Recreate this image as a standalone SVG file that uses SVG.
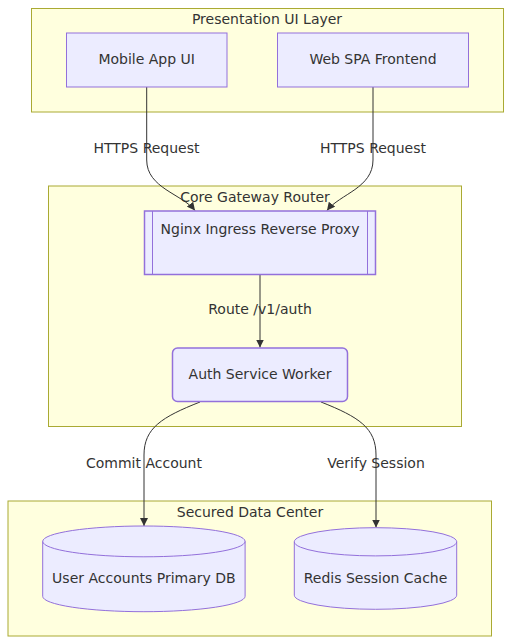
<svg xmlns="http://www.w3.org/2000/svg" width="511" height="644" viewBox="0 0 511 644">
<style>
.cluster{fill:#ffffde;stroke:#aaaa33;stroke-width:1}
.node{fill:#ECECFF;stroke:#9370DB;stroke-width:1}
.thick{stroke-width:1.5}
.lbl{font-family:"DejaVu Sans",Verdana,sans-serif;font-size:14px;fill:#333;text-anchor:middle;dominant-baseline:central}
.edge{fill:none;stroke:#333;stroke-width:1}
</style>
<defs>
<marker id="arrow" viewBox="0 0 10 10" refX="10" refY="5" markerWidth="8" markerHeight="8" markerUnits="userSpaceOnUse" orient="auto">
<path d="M0,0 L10,5 L0,10 z" fill="#333"/>
</marker>
</defs>
<rect width="511" height="644" fill="#ffffff"/>
<g id="cluster-presentation">
<rect class="cluster" x="31.5" y="8.5" width="472" height="103.5"/>
<text class="lbl" x="267" y="19">Presentation UI Layer</text>
</g>
<g id="cluster-gateway">
<rect class="cluster" x="48.5" y="186" width="413" height="240.5"/>
<text class="lbl" x="255" y="196.5">Core Gateway Router</text>
</g>
<g id="cluster-data">
<rect class="cluster" x="8" y="501" width="483.5" height="135"/>
<text class="lbl" x="250" y="511.5">Secured Data Center</text>
</g>
<g id="connectors">
<path class="edge" d="M146.7,87 L146.7,160 C146.7,188 182,194 195,210.5" marker-end="url(#arrow)"/>
<path class="edge" d="M373,87 L373,160 C373,188 340,194 327,210.5" marker-end="url(#arrow)"/>
<path class="edge" d="M260,274.5 L260,347.5" marker-end="url(#arrow)"/>
<path class="edge" d="M200,402 C162,417 144,428 144,455 L144,526" marker-end="url(#arrow)"/>
<path class="edge" d="M321,402 C359,417 376,428 376,455 L376,527.5" marker-end="url(#arrow)"/>
<text class="lbl" x="146.5" y="148">HTTPS Request</text>
<text class="lbl" x="373" y="148">HTTPS Request</text>
<text class="lbl" x="260" y="309">Route /v1/auth</text>
<text class="lbl" x="144" y="462.5">Commit Account</text>
<text class="lbl" x="376" y="462.5">Verify Session</text>
</g>
<g id="node-mobile">
<rect class="node" x="66.5" y="33" width="160.5" height="54"/>
<text class="lbl" x="146.7" y="58.5">Mobile App UI</text>
</g>
<g id="node-web">
<rect class="node" x="277.5" y="33" width="191" height="54"/>
<text class="lbl" x="373" y="58.5">Web SPA Frontend</text>
</g>
<g id="node-nginx">
<rect class="node thick" x="144.5" y="211" width="231" height="63.5"/>
<line x1="152.5" y1="211" x2="152.5" y2="274.5" stroke="#9370DB" stroke-width="1"/>
<line x1="367.5" y1="211" x2="367.5" y2="274.5" stroke="#9370DB" stroke-width="1"/>
<text class="lbl" x="260" y="229">Nginx Ingress Reverse Proxy</text>
</g>
<g id="node-auth">
<rect class="node thick" x="172.5" y="348" width="175" height="53.5" rx="5" ry="5"/>
<text class="lbl" x="260" y="374">Auth Service Worker</text>
</g>
<g id="node-userdb">
<path class="node" d="M42.7,541.4 a101.2,15.4 0 0,0 202.4,0 a101.2,15.4 0 0,0 -202.4,0 l0,54.9 a101.2,15.4 0 0,0 202.4,0 l0,-54.9"/>
<text class="lbl" x="143.9" y="577.5">User Accounts Primary DB</text>
</g>
<g id="node-redis">
<path class="node" d="M294.3,541.8 a81.2,14.1 0 0,0 162.4,0 a81.2,14.1 0 0,0 -162.4,0 l0,53.4 a81.2,14.1 0 0,0 162.4,0 l0,-53.4"/>
<text class="lbl" x="375.5" y="577.5">Redis Session Cache</text>
</g>
</svg>
